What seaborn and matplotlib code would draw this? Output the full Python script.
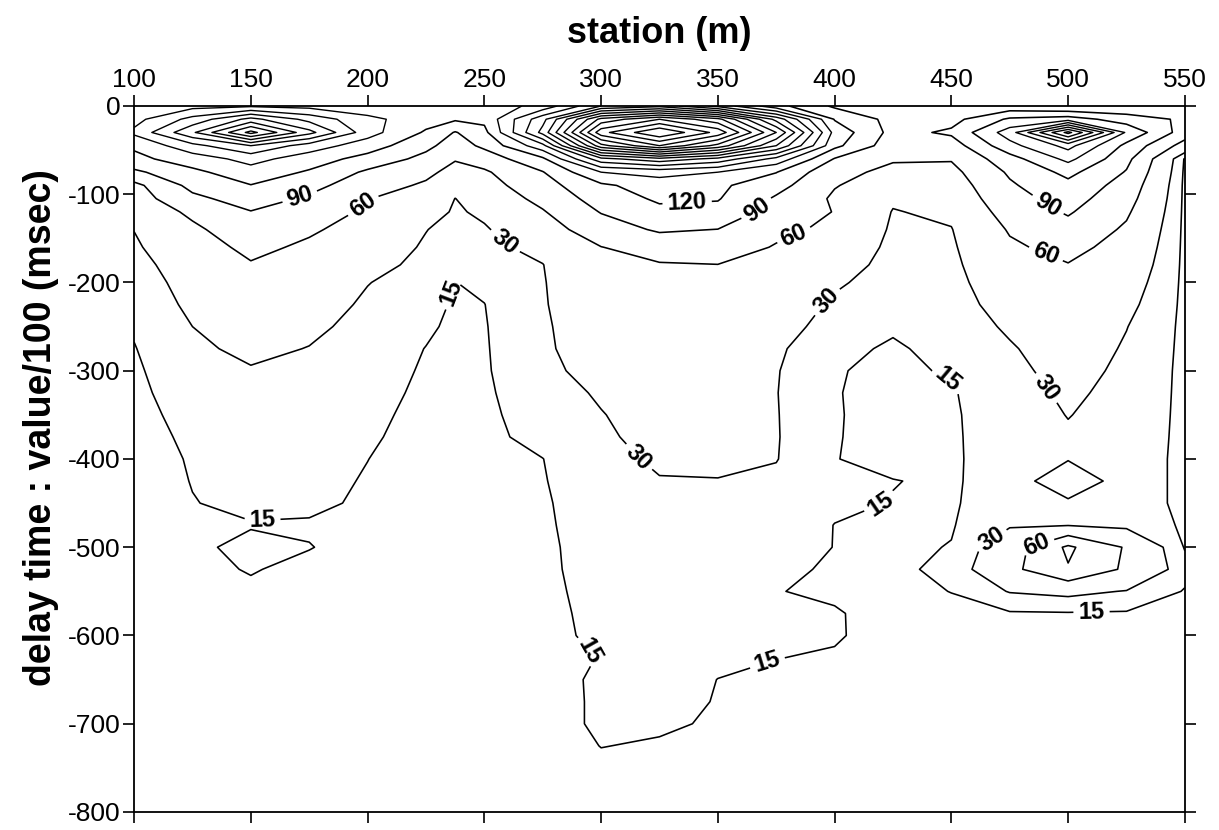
import numpy as np
import matplotlib
matplotlib.use("Agg")
import matplotlib.pyplot as plt
import seaborn as sns

# ---- grid (station in m, delay time in msec) ----
station_m = [100, 125, 150, 175, 200, 225, 237.5, 250, 275, 300, 325, 350,
             375, 400, 425, 450, 475, 500, 525, 550]
delay_ms = [0, -15, -30, -45, -60, -75, -90, -105, -120, -140, -160, -180,
            -200, -225, -250, -275, -300, -325, -350, -375, -400, -425, -450,
            -475, -500, -525, -550, -575, -600, -625, -650, -675, -700, -725,
            -750, -800]

# estimated value (/100) at every delay time, one list per station column
col_100 = [125, 140, 156, 125, 112, 84, 52, 46, 39, 30.4, 27, 24, 21, 18.7, 16.4, 14.4, 13, 12, 11, 11, 10.8, 10.5, 10.5, 10.2, 10, 10, 10, 10, 9.8, 9.6, 9.5, 9.4, 9.3, 9.2, 9.1, 9]
col_125 = [140, 190, 235, 170, 135, 113, 98.7, 83, 65.8, 54.5, 47.3, 40, 37, 33.6, 30, 27, 24, 21.6, 19.3, 17, 15.8, 15.3, 14.7, 13.8, 13.5, 13, 12.5, 12, 11.5, 11, 10.5, 10, 10, 9.5, 9.5, 9]
col_150 = [145, 250, 340, 210, 160, 138, 119, 103.4, 88.9, 77.8, 66.7, 58, 52.8, 46.4, 40, 33.6, 28.8, 26, 23.3, 20.5, 19.1, 18, 17, 14.5, 17, 15.5, 13.7, 12, 11.5, 11, 10.5, 10, 10, 10, 9.5, 9]
col_175 = [140, 200, 250, 165, 135, 116.5, 99.2, 85.6, 76, 63.8, 55.3, 48.7, 42, 37.7, 33.4, 29.5, 27, 24.5, 22, 20.6, 19.2, 17.8, 17, 14, 15.3, 13, 12, 11.5, 11, 10.5, 10, 10, 9.5, 9.5, 9, 9]
col_200 = [130, 158, 162, 135, 109, 85, 73, 60.8, 55.2, 48.4, 42, 36, 30.5, 27.5, 25, 22.5, 20, 18.8, 17.5, 16.3, 15.1, 14.3, 13.5, 12.8, 12, 11.5, 11, 11, 10.5, 10.5, 10, 10, 9.5, 9.5, 9.5, 9]
col_225 = [135, 133, 116, 97.5, 81.3, 66.8, 55.9, 48.1, 40.3, 30.5, 27.7, 25.3, 23, 20, 17.1, 14.7, 13.8, 12.9, 12, 11.5, 11, 11, 10.5, 10.5, 10, 10, 10, 10, 9.8, 9.6, 9.5, 9.5, 9.3, 9.2, 9.1, 9]
col_237 = [132, 124, 88, 75.9, 62, 50.5, 39.5, 29.7, 27.3, 24.1, 20.8, 17.6, 14.8, 13.3, 12.4, 11.7, 11, 10.8, 10.6, 10.5, 10.4, 10.3, 10.2, 10.1, 10, 10, 10, 10, 9.8, 9.6, 9.5, 9.5, 9.3, 9.2, 9.1, 9]
col_250 = [132, 127, 111.7, 96.2, 73.1, 56.1, 48.7, 41.3, 33.9, 27.9, 24.5, 21, 17.6, 14.8, 14.2, 13.8, 13.5, 12.8, 12, 11.5, 11, 10.5, 10.5, 10, 10, 10, 10, 10, 10, 10, 9.5, 9.5, 9.5, 9.5, 9, 9]
col_275 = [160, 230, 250, 170, 114, 88.6, 78.1, 67.7, 57.9, 47.1, 36.4, 29.5, 28.5, 28, 27, 27, 26, 24, 22, 19.5, 14.8, 14, 13, 12.5, 12, 12, 11.5, 11, 11, 10.5, 10.5, 10, 10, 10, 9.5, 9]
col_300 = [240, 400, 470, 380, 230, 150, 114.6, 103.1, 91.5, 75.8, 59.5, 56.6, 53.1, 48.9, 44.6, 40.3, 36, 31.7, 29.4, 28.2, 27, 25.8, 24.5, 23.3, 22, 21, 20, 19, 18, 15.5, 17, 17, 17, 15.2, 13, 10]
col_325 = [260, 450, 540, 450, 260, 160, 135, 124.8, 112.5, 93.8, 71.5, 58.1, 54.4, 49.7, 45, 42.8, 40.6, 38.3, 36.1, 33.8, 31.5, 29.5, 28, 26.3, 25, 24, 23, 22, 21, 19.9, 19.1, 18.2, 16.3, 14.1, 12, 10]
col_350 = [200, 400, 470, 380, 230, 150, 126, 121.9, 111.4, 89.5, 74.2, 59.6, 56, 51.5, 47, 44.2, 41.4, 38.6, 36.2, 34, 31.8, 29.7, 27.8, 25.9, 24, 22.6, 21.3, 19.9, 18.5, 16.8, 14.9, 14.5, 14, 13, 12, 10]
col_375 = [130, 260, 330, 270, 170, 121, 100.4, 86.1, 77.8, 66.7, 58, 53.8, 49.4, 44, 38.5, 33, 31, 30.5, 30.8, 31, 30.6, 27, 24.5, 22, 19.5, 17, 15.3, 16, 16, 15.2, 13, 12.5, 12, 11.5, 11, 10]
col_400 = [85, 118, 140, 128, 88, 66, 61.5, 56, 59, 54, 46.9, 40, 33, 26.6, 22, 17, 15.6, 15.4, 15.5, 15.5, 15.3, 17, 17, 14.8, 14.8, 13.8, 13.5, 15.8, 16, 14, 12, 11.5, 11, 10.5, 10, 10]
col_425 = [75, 80, 80, 72, 62, 55, 45, 33, 29, 27, 25, 23, 21, 19, 16, 14, 13, 12.5, 12.5, 12, 12, 15.3, 14.6, 13, 12.5, 12.5, 12, 11.5, 11, 11, 10.5, 10.5, 10, 10, 10, 10]
col_450 = [70, 80, 95, 75, 62, 52, 45, 40, 34, 29.2, 27, 25, 23, 21, 19, 17.5, 16, 14, 13.5, 13.5, 13.5, 13.5, 13.5, 14, 15.5, 18, 15.2, 12.5, 11.5, 11, 10.5, 10.5, 10, 10, 10, 10]
col_475 = [70, 125, 165, 140, 108, 94, 86.2, 79, 71.9, 62.4, 56, 51, 46, 39.5, 33, 28, 25, 23, 22, 21, 20.5, 21, 23, 28, 45, 52, 31, 13.5, 12, 11, 10.5, 10.5, 10, 10, 10, 10]
col_500 = [60, 135, 310, 190, 158, 128, 112, 102, 93, 80, 68, 59, 55, 50, 45, 41, 37, 33, 30.5, 28, 29, 42, 27, 29, 95, 88, 35, 14, 12, 11.5, 11, 10.5, 10.5, 10, 10, 10]
col_525 = [65, 105, 145, 112, 98, 88, 78, 71, 64, 56, 50, 45, 40, 35, 30.5, 28, 26, 25, 24, 23, 22, 22, 22, 25, 57, 55, 29, 13.5, 12, 11.5, 11, 10.5, 10.5, 10, 10, 10]
col_550 = [80, 85, 75, 48, 13.5, 12.5, 12, 12, 12, 12, 12, 12, 12, 12, 12, 12, 12, 12, 12, 12, 12, 12, 12, 13, 14, 20, 14, 12, 11.5, 11, 10.5, 10.5, 10, 10, 10, 10]

labelled_levels = [15, 30, 60, 90, 120]
inner_levels = [150, 180, 210, 240, 270, 300, 330, 360, 390, 420, 450, 480, 510]

# contour label positions (station, delay) per labelled level
labels_15 = [(155, -472), (237, -212), (297, -614), (371, -629), (420, -452),
             (449, -308), (510, -570)]
labels_30 = [(260, -150), (396, -220), (312, -408), (486, -329), (468, -495)]
labels_60 = [(197, -109), (382, -143), (490, -171), (487, -501)]
labels_90 = [(171, -103), (368, -121), (490, -118)]
labels_120 = [(337, -118)]

x_ticks = [100, 150, 200, 250, 300, 350, 400, 450, 500, 550]
y_ticks = [-800, -700, -600, -500, -400, -300, -200, -100, 0]

# ---- drawing ----
sns.set_style("ticks")
plt.rcParams["font.family"] = ["Liberation Sans", "DejaVu Sans"]
plt.rcParams["axes.unicode_minus"] = False

columns = [col_100, col_125, col_150, col_175, col_200, col_225, col_237,
           col_250, col_275, col_300, col_325, col_350, col_375, col_400,
           col_425, col_450, col_475, col_500, col_525, col_550]
values = np.column_stack([np.asarray(c, dtype=float) for c in columns])

fig = plt.figure(figsize=(12.19, 8.30), dpi=100)
ax = fig.add_axes([0.110, 0.0217, 0.862, 0.8506])
ax.set_facecolor("white")
ax.set_xlim(100, 550)
ax.set_ylim(-800, 0)

ax.contour(station_m, delay_ms, values, levels=inner_levels,
           colors="black", linewidths=1.0)

label_points = {15: labels_15, 30: labels_30, 60: labels_60,
                90: labels_90, 120: labels_120}
for lev in labelled_levels:
    cs = ax.contour(station_m, delay_ms, values, levels=[lev],
                    colors="black", linewidths=1.15)
    txts = ax.clabel(cs, manual=label_points[lev], inline=True,
                     inline_spacing=5, fontsize=17, fmt="%d")
    for t in txts:
        t.set_fontweight("bold")

ax.set_xticks(x_ticks)
ax.set_yticks(y_ticks)
ax.tick_params(axis="x", top=True, bottom=True, labeltop=True,
               labelbottom=False, direction="out", length=8, width=1.2,
               labelsize=19, colors="black", pad=2)
ax.tick_params(axis="y", left=True, right=True, labelleft=True,
               labelright=False, direction="out", length=8, width=1.2,
               labelsize=19, colors="black", pad=2)
for sp in ax.spines.values():
    sp.set_visible(True)
    sp.set_linewidth(1.3)
    sp.set_color("black")

ax.xaxis.set_label_position("top")
ax.set_xlabel("station (m)", fontsize=26, fontweight="bold", labelpad=18,
              color="black")
ax.set_ylabel("delay time : value/100 (msec)", fontsize=27,
              fontweight="bold", color="black")
ax.yaxis.set_label_coords(-0.071, 0.545)

fig.savefig("out.png", dpi=100, facecolor="white")
